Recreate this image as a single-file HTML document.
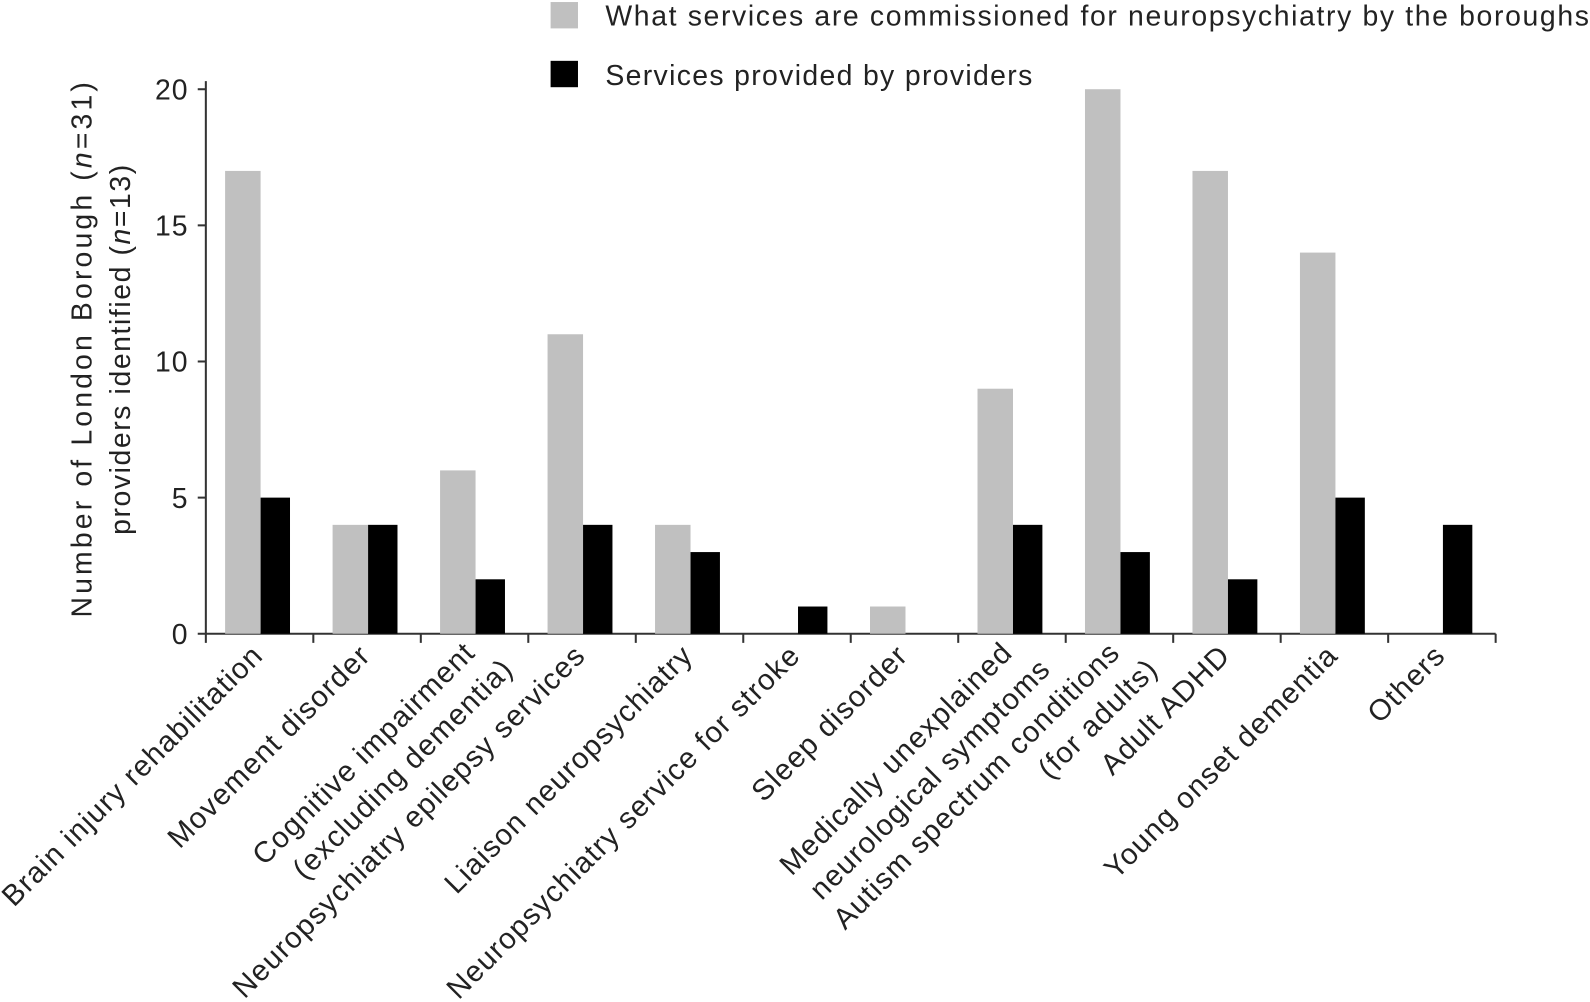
<!DOCTYPE html>
<html><head><meta charset="utf-8"><style>
html,body{margin:0;padding:0;background:#fff;}
svg{display:block;font-family:"Liberation Sans",sans-serif;}
</style></head><body>
<svg id="chart" width="1590" height="1002" viewBox="0 0 1590 1002" xmlns="http://www.w3.org/2000/svg">
<g transform="scale(1.014)">
<g id="legend">
  <rect x="543" y="2" width="27" height="26" fill="#c0c0c0"/>
  <text x="597" y="25" font-size="28" fill="#222" textLength="970" lengthAdjust="spacing">What services are commissioned for neuropsychiatry by the boroughs</text>
  <rect x="543" y="60" width="27" height="26" fill="#000"/>
  <text x="597" y="84" font-size="28" fill="#222" textLength="421" lengthAdjust="spacing">Services provided by providers</text>
</g>
<g id="ytitle" transform="translate(100,345) rotate(-90)" font-size="28" fill="#222" text-anchor="middle">
  <text x="0" y="-10" textLength="528" lengthAdjust="spacing">Number of London Borough (<tspan font-style="italic">n</tspan>=31)</text>
  <text x="0" y="28" textLength="365" lengthAdjust="spacing">providers identified (<tspan font-style="italic">n</tspan>=13)</text>
</g>
<g id="axes"></g>
<g id="bars"></g>
<g id="xlabels"></g>
</g>
</svg>
<script>
const categories = [
  ["Brain injury rehabilitation"],
  ["Movement disorder"],
  ["Cognitive impairment","(excluding dementia)"],
  ["Neuropsychiatry epilepsy services"],
  ["Liaison neuropsychiatry"],
  ["Neuropsychiatry service for stroke"],
  ["Sleep disorder"],
  ["Medically unexplained","neurological symptoms"],
  ["Autism spectrum conditions","(for adults)"],
  ["Adult ADHD"],
  ["Young onset dementia"],
  ["Others"]
];
const commissioned = [17,4,6,11,4,0,1,9,20,17,14,0];
const provided = [5,4,2,4,3,1,0,4,3,2,5,4];
const yTicks = [0,5,10,15,20];

const NS = "http://www.w3.org/2000/svg";
const x0 = 203, x1 = 1475, y0 = 625, yTop = 88, yMax = 20;
const step = (x1 - x0) / categories.length;
function yScale(v){ return y0 - (v / yMax) * (y0 - yTop); }
function xBand(i){ return x0 + i * step; }
function mk(tag, attrs, parent){ const e = document.createElementNS(NS, tag); for (const k in attrs) e.setAttribute(k, attrs[k]); parent.appendChild(e); return e; }

const axes = document.getElementById('axes');
const yl = mk('line',{x1:x0,y1:80,x2:x0,y2:y0,stroke:'#333','stroke-width':2},axes);


const xl = mk('line',{x1:x0,y1:y0,x2:x1,y2:y0,stroke:'#333','stroke-width':2},axes);


yTicks.forEach(t => {
  const y = yScale(t);
  const tk = mk('line',{x1:x0-8,y1:y,x2:x0,y2:y,stroke:'#333','stroke-width':2},axes);
  
  
  const tl = mk('text',{x:x0-17,y:y+10,'font-size':28,'text-anchor':'end',fill:'#222','letter-spacing':1},axes);
  
  
  tl.textContent = t;
});
for (let i = 0; i <= categories.length; i++) {
  const x = xBand(i);
  const tk = mk('line',{x1:x,y1:y0,x2:x,y2:y0+9,stroke:'#333','stroke-width':2},axes);
  
  
}

const bars = document.getElementById('bars');
categories.forEach((c, i) => {
  const bx = xBand(i) + 19;
  const gh = y0 - yScale(commissioned[i]);
  const g = mk('rect',{x:bx,y:yScale(commissioned[i]),width:35,height:gh,fill:'#c0c0c0'},bars);
  
  
  const bh = y0 - yScale(provided[i]);
  const b = mk('rect',{x:bx+35,y:yScale(provided[i]),width:29,height:bh,fill:'#000'},bars);
  
  
});

const xlabels = document.getElementById('xlabels');
categories.forEach((lines, i) => {
  const cx = xBand(i) + step/2 + 5;
  const g = mk('g',{transform:`translate(${cx},648) rotate(-45)`},xlabels);
  
  
  lines.forEach((ln, j) => {
    const t = mk('text',{x: j*15, y: j*38 + (lines.length>1 ? -4 : 0),'font-size':29,'letter-spacing':1.2,'text-anchor':'end',fill:'#222'},g);
    t.textContent = ln;
  });
});
</script>
</body></html>
